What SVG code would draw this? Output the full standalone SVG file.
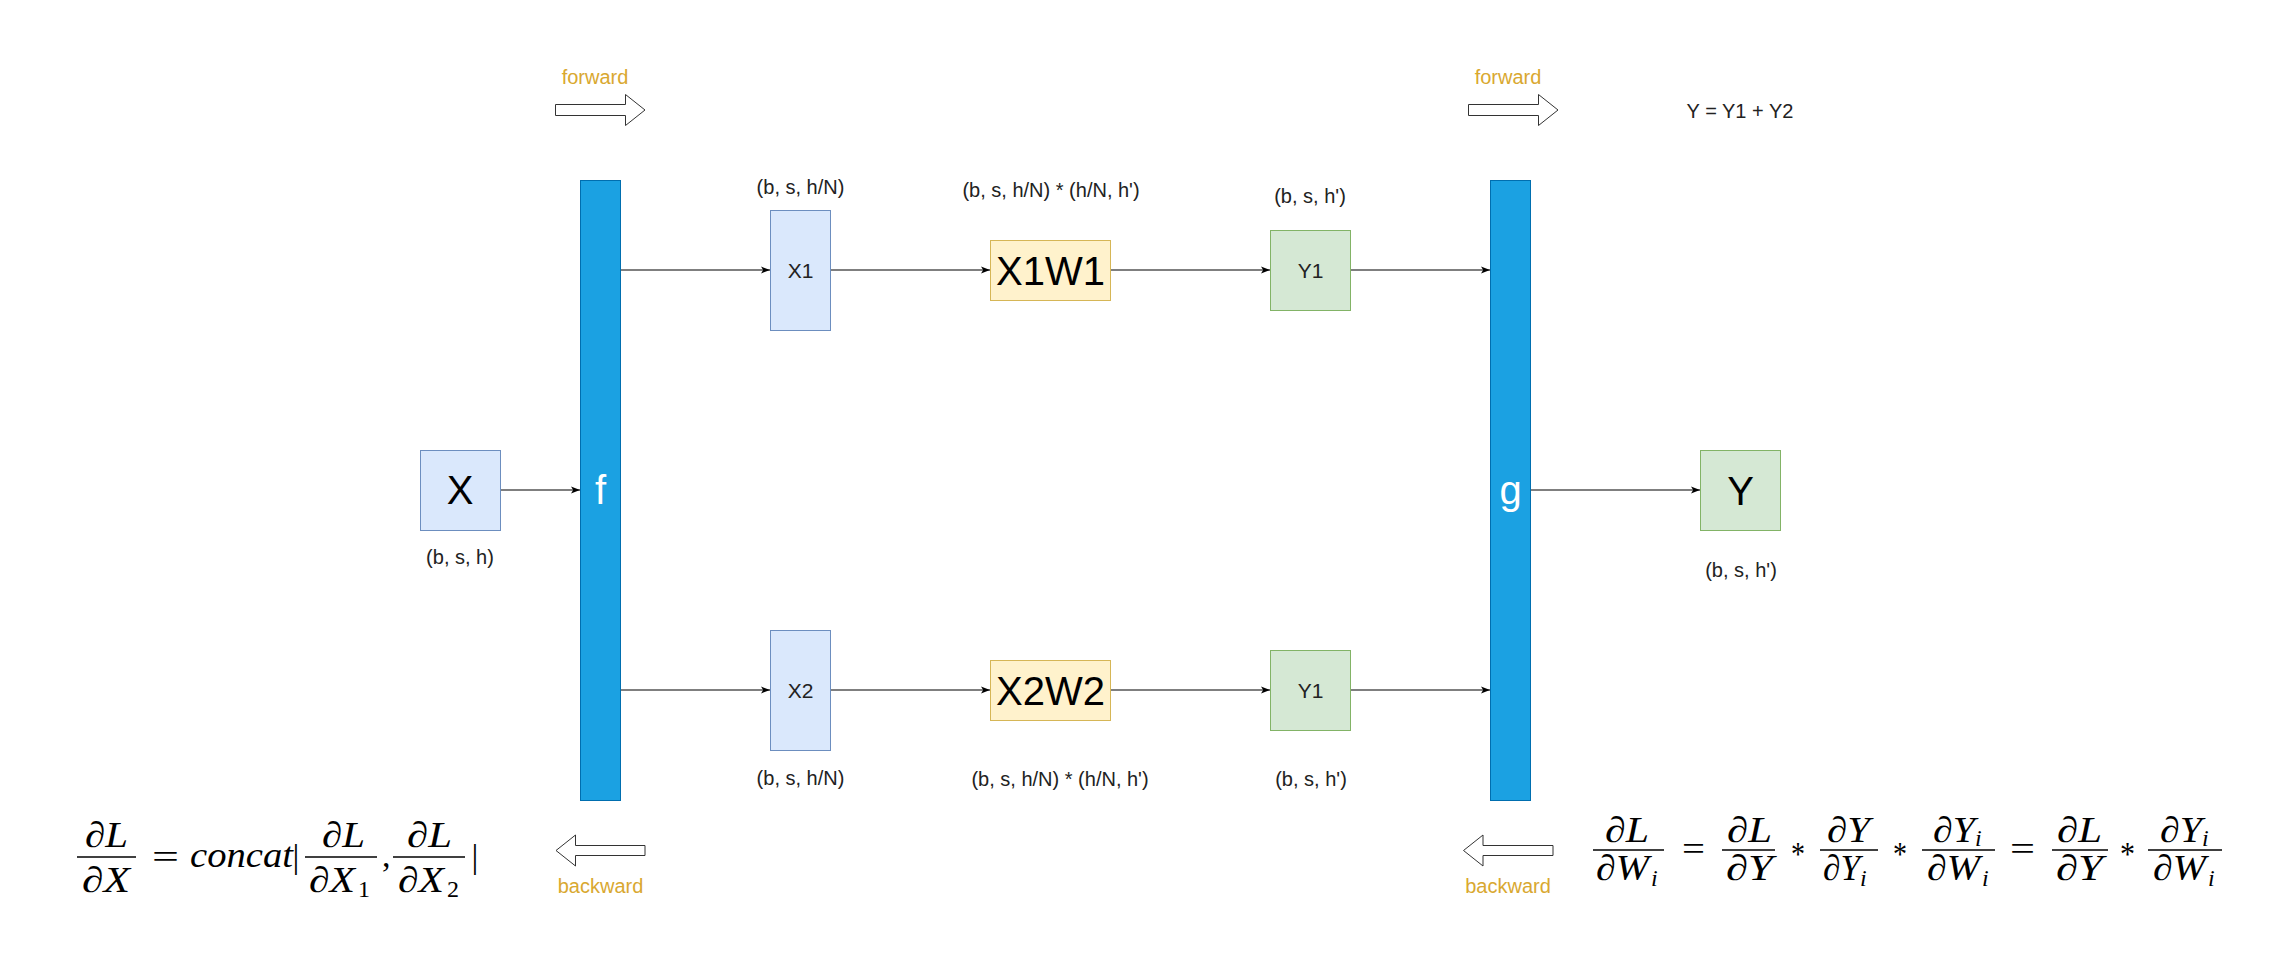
<svg xmlns="http://www.w3.org/2000/svg" width="2281" height="972" viewBox="0 0 2281 972">
  <style>
    .lbl { font-family: "Liberation Sans", Arial, Helvetica, sans-serif; font-size: 20px; fill: #222; text-anchor: middle; }
    .big { font-family: "Liberation Sans", Arial, Helvetica, sans-serif; font-size: 40px; fill: #000; text-anchor: middle; }
    .mid { font-family: "Liberation Sans", Arial, Helvetica, sans-serif; font-size: 21px; fill: #222; text-anchor: middle; }
    .bar-t { font-family: "Liberation Sans", Arial, Helvetica, sans-serif; font-size: 40px; fill: #fff; text-anchor: middle; }
    .dir { font-family: "Liberation Sans", Arial, Helvetica, sans-serif; font-size: 20px; fill: #d9a830; text-anchor: middle; }
    .blue { fill: #dae8fc; stroke: #6c8ebf; stroke-width: 1; }
    .yellow { fill: #fff2cc; stroke: #d6b656; stroke-width: 1; }
    .green { fill: #d5e8d4; stroke: #82b366; stroke-width: 1; }
    .split { fill: #1ba1e2; stroke: #006eaf; stroke-width: 1; }
    .flow { fill: #fff; stroke: #333; stroke-width: 1; }
    .edge { fill: none; stroke: #000; stroke-width: 1.2; marker-end: url(#arr); }
    .m { font-family: "Liberation Serif", "Times New Roman", serif; font-size: 36px; font-style: italic; fill: #000; }
    .m .d { font-family: "Liberation Serif", "Noto Sans", serif; font-style: normal; }
    .mu { font-family: "Liberation Serif", "Times New Roman", serif; font-size: 34px; fill: #000; }
    .ms { font-family: "Liberation Serif", "Times New Roman", serif; font-size: 24px; fill: #000; }
    .msi { font-family: "Liberation Serif", "Times New Roman", serif; font-size: 24px; font-style: italic; fill: #000; }
    .fb { stroke: #000; stroke-width: 1.6; }
  </style>
  <defs>
    <marker id="arr" markerUnits="userSpaceOnUse" markerWidth="9" markerHeight="8" viewBox="0 0 9 8" refX="9" refY="4" orient="auto">
      <path d="M0,0.5 L9,4 L0,7.5 L2.2,4 Z" fill="#000"/>
    </marker>
  </defs>

  <rect width="2281" height="972" fill="#fff"/>

  <!-- direction hints -->
  <g id="forward-left">
    <text class="dir" x="595" y="84">forward</text>
    <polygon class="flow" points="555.5,104.5 625.5,104.5 625.5,94.5 645,110 625.5,125.5 625.5,115.5 555.5,115.5"/>
  </g>
  <g id="forward-right">
    <text class="dir" x="1508" y="84">forward</text>
    <polygon class="flow" points="1468.5,104.5 1538.5,104.5 1538.5,94.5 1558,110 1538.5,125.5 1538.5,115.5 1468.5,115.5"/>
  </g>
  <g id="backward-left">
    <polygon class="flow" points="645,845.5 575.5,845.5 575.5,835 556,850.5 575.5,866 575.5,855.5 645,855.5"/>
    <text class="dir" x="600.5" y="893">backward</text>
  </g>
  <g id="backward-right">
    <polygon class="flow" points="1553,845.5 1483,845.5 1483,835 1463.5,850.5 1483,866 1483,855.5 1553,855.5"/>
    <text class="dir" x="1508" y="893">backward</text>
  </g>

  <text id="sum-note" class="lbl" x="1740" y="118">Y = Y1 + Y2</text>

  <!-- connectors -->
  <g id="connectors">
    <path class="edge" d="M500,490 L580,490"/>
    <path class="edge" d="M620,270 L770,270"/>
    <path class="edge" d="M830,270 L990,270"/>
    <path class="edge" d="M1110,270 L1270,270"/>
    <path class="edge" d="M1350,270 L1490,270"/>
    <path class="edge" d="M620,690 L770,690"/>
    <path class="edge" d="M830,690 L990,690"/>
    <path class="edge" d="M1110,690 L1270,690"/>
    <path class="edge" d="M1350,690 L1490,690"/>
    <path class="edge" d="M1530,490 L1700,490"/>
  </g>

  <!-- nodes -->
  <g id="node-x">
    <rect class="blue" x="420.5" y="450.5" width="80" height="80"/>
    <text class="big" x="460" y="504">X</text>
    <text class="lbl" x="460" y="564">(b, s, h)</text>
  </g>
  <g id="node-f">
    <rect class="split" x="580.5" y="180.5" width="40" height="620"/>
    <text class="bar-t" x="600.5" y="504">f</text>
  </g>
  <g id="node-x1">
    <rect class="blue" x="770.5" y="210.5" width="60" height="120"/>
    <text class="mid" x="800.5" y="278">X1</text>
    <text class="lbl" x="800.5" y="194">(b, s, h/N)</text>
  </g>
  <g id="node-x2">
    <rect class="blue" x="770.5" y="630.5" width="60" height="120"/>
    <text class="mid" x="800.5" y="698">X2</text>
    <text class="lbl" x="800.5" y="785">(b, s, h/N)</text>
  </g>
  <g id="node-x1w1">
    <rect class="yellow" x="990.5" y="240.5" width="120" height="60"/>
    <text class="big" x="1050.5" y="285">X1W1</text>
    <text class="lbl" x="1051" y="197">(b, s, h/N) * (h/N, h')</text>
  </g>
  <g id="node-x2w2">
    <rect class="yellow" x="990.5" y="660.5" width="120" height="60"/>
    <text class="big" x="1050.5" y="705">X2W2</text>
    <text class="lbl" x="1060" y="786">(b, s, h/N) * (h/N, h')</text>
  </g>
  <g id="node-y1-top">
    <rect class="green" x="1270.5" y="230.5" width="80" height="80"/>
    <text class="mid" x="1310.5" y="278">Y1</text>
    <text class="lbl" x="1310" y="203">(b, s, h')</text>
  </g>
  <g id="node-y1-bottom">
    <rect class="green" x="1270.5" y="650.5" width="80" height="80"/>
    <text class="mid" x="1310.5" y="698">Y1</text>
    <text class="lbl" x="1311" y="786">(b, s, h')</text>
  </g>
  <g id="node-g">
    <rect class="split" x="1490.5" y="180.5" width="40" height="620"/>
    <text class="bar-t" x="1510.5" y="504">g</text>
  </g>
  <g id="node-y">
    <rect class="green" x="1700.5" y="450.5" width="80" height="80"/>
    <text class="big" x="1740.5" y="505">Y</text>
    <text class="lbl" x="1741" y="577">(b, s, h')</text>
  </g>

  <!-- gradient of the input: dL/dX = concat|dL/dX1, dL/dX2| -->
  <g id="formula-input-grad">
    <text class="m" x="85" y="847" textLength="43" lengthAdjust="spacingAndGlyphs"><tspan class="d">∂</tspan>L</text>
    <line class="fb" x1="77" y1="857" x2="136" y2="857"/>
    <text class="m" x="82" y="892" textLength="48" lengthAdjust="spacingAndGlyphs"><tspan class="d">∂</tspan>X</text>
    <text class="mu" x="152" y="868" textLength="27" lengthAdjust="spacingAndGlyphs">=</text>
    <text class="m" x="190" y="867" textLength="103" lengthAdjust="spacingAndGlyphs">concat</text>
    <text class="mu" x="296" y="868" font-size="30" text-anchor="middle">|</text>
    <text class="m" x="322" y="847" textLength="43" lengthAdjust="spacingAndGlyphs"><tspan class="d">∂</tspan>L</text>
    <line class="fb" x1="305" y1="857" x2="377" y2="857"/>
    <text class="m" x="309" y="892" textLength="46" lengthAdjust="spacingAndGlyphs"><tspan class="d">∂</tspan>X</text>
    <text class="ms" x="358" y="897">1</text>
    <text class="mu" x="382" y="867">,</text>
    <text class="m" x="407" y="847" textLength="45" lengthAdjust="spacingAndGlyphs"><tspan class="d">∂</tspan>L</text>
    <line class="fb" x1="393" y1="857" x2="465" y2="857"/>
    <text class="m" x="398" y="892" textLength="46" lengthAdjust="spacingAndGlyphs"><tspan class="d">∂</tspan>X</text>
    <text class="ms" x="447" y="897">2</text>
    <text class="mu" x="475" y="868" font-size="30" text-anchor="middle">|</text>
  </g>

  <!-- gradient of the weights: dL/dWi = dL/dY * dY/dYi * dYi/dWi = dL/dY * dYi/dWi -->
  <g id="formula-weight-grad">
    <text class="m" x="1605" y="842" textLength="44" lengthAdjust="spacingAndGlyphs"><tspan class="d">∂</tspan>L</text>
    <line class="fb" x1="1593" y1="850" x2="1664" y2="850"/>
    <text class="m" x="1596" y="880" textLength="53" lengthAdjust="spacingAndGlyphs"><tspan class="d">∂</tspan>W</text>
    <text class="msi" x="1651" y="886">i</text>

    <text class="mu" x="1682" y="860" textLength="23" lengthAdjust="spacingAndGlyphs">=</text>

    <text class="m" x="1727" y="842" textLength="45" lengthAdjust="spacingAndGlyphs"><tspan class="d">∂</tspan>L</text>
    <line class="fb" x1="1722" y1="850" x2="1775" y2="850"/>
    <text class="m" x="1726" y="880" textLength="47" lengthAdjust="spacingAndGlyphs"><tspan class="d">∂</tspan>Y</text>

    <text class="mu" x="1791" y="865" textLength="14" lengthAdjust="spacingAndGlyphs">*</text>

    <text class="m" x="1827" y="842" textLength="43" lengthAdjust="spacingAndGlyphs"><tspan class="d">∂</tspan>Y</text>
    <line class="fb" x1="1820" y1="850" x2="1878" y2="850"/>
    <text class="m" x="1823" y="880" textLength="37" lengthAdjust="spacingAndGlyphs"><tspan class="d">∂</tspan>Y</text>
    <text class="msi" x="1860" y="886">i</text>

    <text class="mu" x="1893" y="865" textLength="14" lengthAdjust="spacingAndGlyphs">*</text>

    <text class="m" x="1933" y="842" textLength="42" lengthAdjust="spacingAndGlyphs"><tspan class="d">∂</tspan>Y</text>
    <text class="msi" x="1975" y="846">i</text>
    <line class="fb" x1="1922" y1="850" x2="1995" y2="850"/>
    <text class="m" x="1927" y="880" textLength="53" lengthAdjust="spacingAndGlyphs"><tspan class="d">∂</tspan>W</text>
    <text class="msi" x="1982" y="886">i</text>

    <text class="mu" x="2010" y="860" textLength="25" lengthAdjust="spacingAndGlyphs">=</text>

    <text class="m" x="2057" y="842" textLength="45" lengthAdjust="spacingAndGlyphs"><tspan class="d">∂</tspan>L</text>
    <line class="fb" x1="2052" y1="850" x2="2108" y2="850"/>
    <text class="m" x="2056" y="880" textLength="47" lengthAdjust="spacingAndGlyphs"><tspan class="d">∂</tspan>Y</text>

    <text class="mu" x="2120" y="865" textLength="15" lengthAdjust="spacingAndGlyphs">*</text>

    <text class="m" x="2160" y="842" textLength="42" lengthAdjust="spacingAndGlyphs"><tspan class="d">∂</tspan>Y</text>
    <text class="msi" x="2202" y="846">i</text>
    <line class="fb" x1="2148" y1="850" x2="2222" y2="850"/>
    <text class="m" x="2153" y="880" textLength="53" lengthAdjust="spacingAndGlyphs"><tspan class="d">∂</tspan>W</text>
    <text class="msi" x="2208" y="886">i</text>
  </g>
</svg>
